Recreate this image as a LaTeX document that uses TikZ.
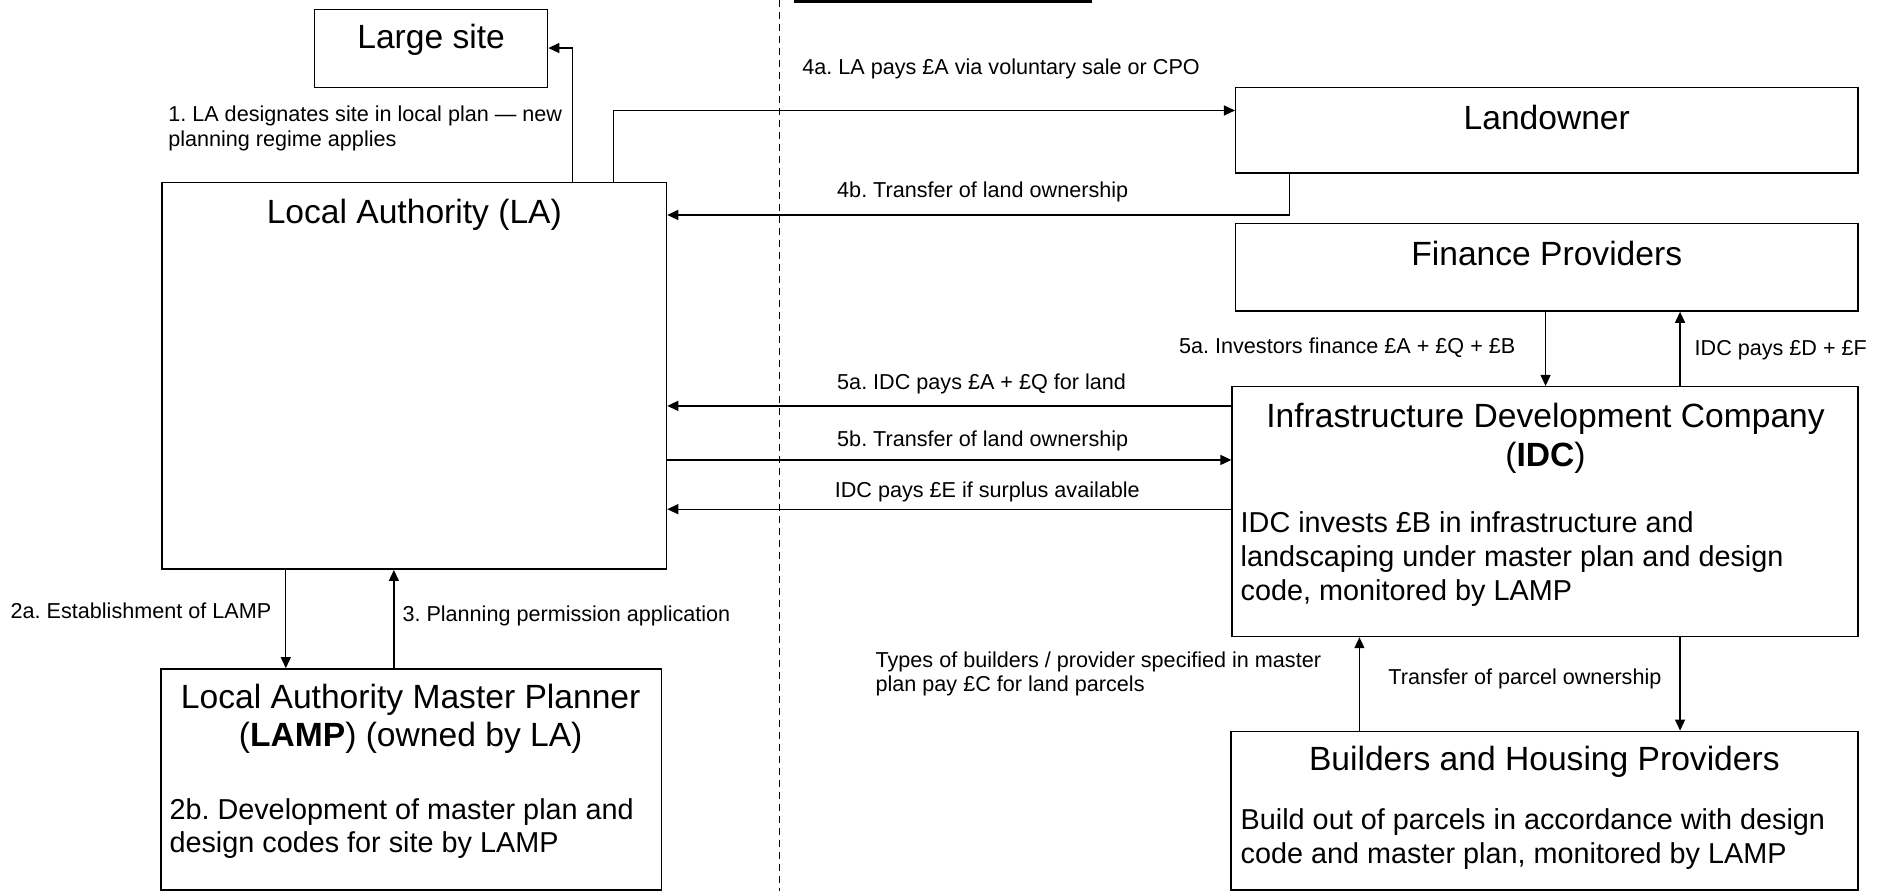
\documentclass[tikz,border=0pt]{standalone}
\usepackage{fontspec}
\setmainfont{Liberation Sans}
\usetikzlibrary{arrows.meta,fit}
\frenchspacing
\begin{document}
\begin{tikzpicture}[x=1.2009pt,y=-1.2009pt,
 box/.style={draw, line width=1.5pt, inner sep=0pt},
 title/.style={font=\fontsize{33.6}{38.4}\selectfont, align=center, inner sep=0pt},
 body/.style={font=\fontsize{28.8}{33.6}\selectfont, align=left, anchor=west, inner sep=0pt},
 lbl/.style={font=\fontsize{21.6}{24.5}\selectfont, align=left, inner sep=0pt},
 conn/.style={line width=1.3pt, -{Triangle[length=11pt,width=10pt]}},
 divider/.style={line width=1pt, dash pattern=on 7pt off 5pt},
]
\useasboundingbox (0,0) rectangle (1568,742);

% boxes
\node[box, fit={(262,8) (456,73)}] (site) {};
\node[box, fit={(135,152) (555,474)}] (la) {};
\node[box, fit={(134,557) (551,741)}] (lamp) {};
\node[box, fit={(1029,73) (1547,144)}] (land) {};
\node[box, fit={(1029,186) (1547,259)}] (fin) {};
\node[box, fit={(1026,322) (1547,530)}] (idc) {};
\node[box, fit={(1025,609) (1547,741)}] (build) {};

% box texts
\node[title] (tsite) at (359,33.5) {Large site};
\node[title] (tla) at (345,178.5) {Local Authority (LA)};
\node[title] (tlamp) at (342,598.5) {Local Authority Master Planner\\(\textbf{LAMP}) (owned by LA)};
\node[body] (blamp) at (141,690) {2b. Development of master plan and\\design codes for site by LAMP};
\node[title] (tland) at (1288,98) {Landowner};
\node[title] (tfin) at (1288,211) {Finance Providers};
\node[title] (tidc) at (1287,365) {Infrastructure Development Company\\(\textbf{IDC})};
\node[body] (bidc) at (1033,465.5) {IDC invests £B in infrastructure and\\landscaping under master plan and design\\code, monitored by LAMP};
\node[title] (tbuild) at (1286,634.5) {Builders and Housing Providers};
\node[body] (bbuild) at (1033,698.5) {Build out of parcels in accordance with design\\code and master plan, monitored by LAMP};

% divider and top rule
\draw[divider] (649,0) -- (649,742);
\draw[line width=2.5pt] (661,1.2) -- (909,1.2);

% connector bend / column coordinates
\coordinate (k1) at (477,40);
\coordinate (k4a) at (511,92);
\coordinate (k4b) at (1074,179);
\coordinate (kfd) at (1287,0);
\coordinate (kfu) at (1399,0);
\coordinate (k5a) at (0,338);
\coordinate (k5b) at (0,383);
\coordinate (kE) at (0,424);
\coordinate (k2a) at (238,0);
\coordinate (k3) at (328,0);
\coordinate (kbu) at (1132,0);
\coordinate (kbd) at (1399,0);

% connectors
\draw[conn] (la.north -| k1) -- (k1) -- (site.east |- k1);
\draw[conn] (la.north -| k4a) -- (k4a) -- (land.west |- k4a);
\draw[conn] (land.south -| k4b) -- (k4b) -- (la.east |- k4b);
\draw[conn] (fin.south -| kfd) -- (idc.north -| kfd);
\draw[conn] (idc.north -| kfu) -- (fin.south -| kfu);
\draw[conn] (idc.west |- k5a) -- (la.east |- k5a);
\draw[conn] (la.east |- k5b) -- (idc.west |- k5b);
\draw[conn] (idc.west |- kE) -- (la.east |- kE);
\draw[conn] (la.south -| k2a) -- (lamp.north -| k2a);
\draw[conn] (lamp.north -| k3) -- (la.south -| k3);
\draw[conn] (build.north -| kbu) -- (idc.south -| kbu);
\draw[conn] (idc.south -| kbd) -- (build.north -| kbd);

% labels
\node[lbl, anchor=west] (l1) at (140,107) {1. LA designates site in local plan — new\\planning regime applies};
\node[lbl, anchor=west] (l4a) at (668,57.5) {4a. LA pays £A via voluntary sale or CPO};
\node[lbl, anchor=west] (l4b) at (697,159.5) {4b. Transfer of land ownership};
\node[lbl, anchor=east] (lfd) at (1262,289.5) {5a. Investors finance £A + £Q + £B};
\node[lbl, anchor=west] (lfu) at (1411,291.5) {IDC pays £D + £F};
\node[lbl, anchor=west] (l5a) at (697,319.5) {5a. IDC pays £A + £Q for land};
\node[lbl, anchor=west] (l5b) at (697,367.5) {5b. Transfer of land ownership};
\node[lbl, anchor=west] (lE) at (695,409.5) {IDC pays £E if surplus available};
\node[lbl, anchor=east] (l2a) at (226,508.5) {2a. Establishment of LAMP};
\node[lbl, anchor=west] (l3) at (335,512.5) {3. Planning permission application};
\node[lbl, anchor=west] (lbu) at (729,561) {Types of builders / provider specified in master\\plan pay £C for land parcels};
\node[lbl, anchor=west] (lbd) at (1156,565.5) {Transfer of parcel ownership};
\end{tikzpicture}
\end{document}
